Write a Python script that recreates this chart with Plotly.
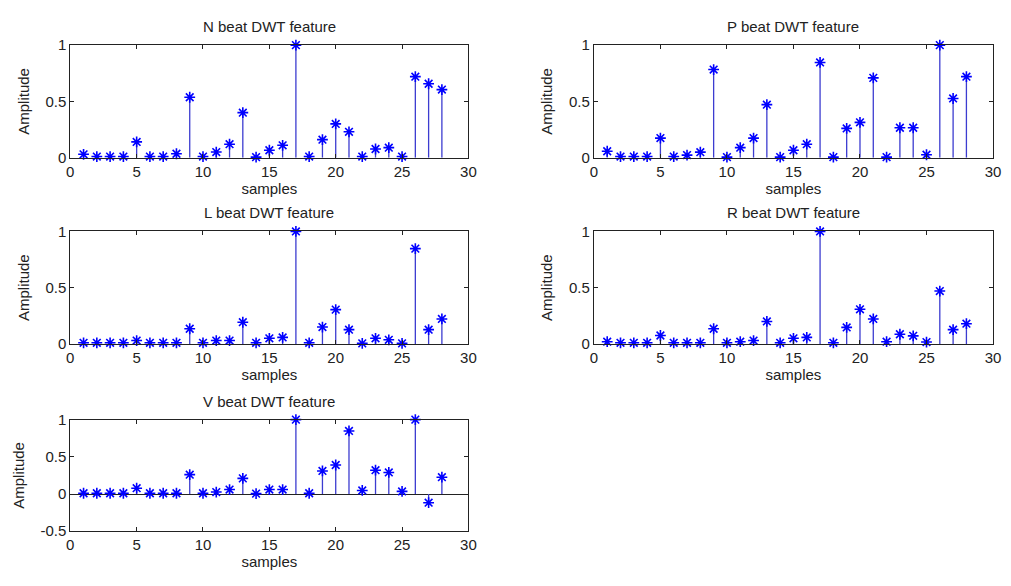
import plotly.graph_objects as go

samples = list(range(1, 29))

n_beat = [0.03, 0.01, 0.01, 0.01, 0.14, 0.01, 0.01, 0.035, 0.537, 0.01, 0.05, 0.12, 0.40, 0.005,
          0.066, 0.11, 1.0, 0.01, 0.16, 0.30, 0.23, 0.01, 0.077, 0.089, 0.01, 0.72, 0.657, 0.605]
p_beat = [0.057, 0.01, 0.01, 0.01, 0.174, 0.01, 0.023, 0.049, 0.783, 0.005, 0.089, 0.174, 0.471, 0.005,
          0.066, 0.12, 0.846, 0.005, 0.26, 0.314, 0.709, 0.005, 0.266, 0.266, 0.026, 1.0, 0.526, 0.72]
l_beat = [0.01, 0.01, 0.01, 0.01, 0.03, 0.01, 0.01, 0.01, 0.135, 0.01, 0.03, 0.03, 0.193, 0.01,
          0.05, 0.058, 1.0, 0.01, 0.15, 0.305, 0.127, 0.005, 0.05, 0.037, 0.005, 0.847, 0.127, 0.222]
r_beat = [0.02, 0.01, 0.01, 0.01, 0.075, 0.01, 0.01, 0.01, 0.135, 0.01, 0.02, 0.03, 0.20, 0.01,
          0.05, 0.058, 1.0, 0.01, 0.147, 0.308, 0.222, 0.02, 0.086, 0.072, 0.017, 0.47, 0.127, 0.18]
v_beat = [0.01, 0.01, 0.01, 0.01, 0.078, 0.01, 0.01, 0.01, 0.26, 0.01, 0.026, 0.06, 0.21, 0.005,
          0.06, 0.06, 1.0, 0.01, 0.31, 0.39, 0.848, 0.048, 0.32, 0.29, 0.035, 1.0, -0.117, 0.226]

titles = ["N beat DWT feature", "P beat DWT feature", "L beat DWT feature",
          "R beat DWT feature", "V beat DWT feature"]
series = [n_beat, p_beat, l_beat, r_beat, v_beat]

# the page has an 8px body margin, so the figure is 16px smaller than the window
OFF = 8
W, H = 1011 - 2 * OFF, 586 - 2 * OFF
col_x = [(67, 470), (597, 1001)]
row_y = [(37, 153), (229, 345), (423, 538)]
positions = [(0, 0), (0, 1), (1, 0), (1, 1), (2, 0)]

FONT = "Liberation Sans, Arial, sans-serif"
STEM = "#3c3cd0"
MARK = "#0000ff"
TXT = "#222222"
FS = 15

fig = go.Figure()
layout = dict(width=W, height=H, margin=dict(l=0, r=0, t=0, b=0),
              paper_bgcolor="white", plot_bgcolor="white", showlegend=False,
              font=dict(family=FONT, size=FS, color=TXT))
annotations = []

for i, (vals, title, (r, c)) in enumerate(zip(series, titles, positions)):
    k = "" if i == 0 else str(i + 1)
    xa, ya = "x" + k, "y" + k
    sx, sy = [], []
    for xv, yv in zip(samples, vals):
        sx += [xv, xv, None]
        sy += [0, yv, None]
    fig.add_trace(go.Scatter(x=sx, y=sy, mode="lines", xaxis=xa, yaxis=ya,
                             line=dict(color=STEM, width=1.3), hoverinfo="skip"))
    fig.add_trace(go.Scatter(x=samples, y=vals, mode="markers", xaxis=xa, yaxis=ya,
                             cliponaxis=False,
                             marker=dict(symbol="asterisk-open", size=9, color=MARK,
                                         line=dict(color=MARK, width=1.6))))
    x0, x1 = [v - OFF for v in col_x[c]]
    yt, yb = [v - OFF for v in row_y[r]]
    is_v = (i == 4)
    axis_common = dict(showline=True, linecolor=TXT, linewidth=1, mirror="ticks",
                       ticks="inside", ticklen=4, tickcolor=TXT, showgrid=False,
                       tickfont=dict(family=FONT, size=FS, color=TXT))
    layout["xaxis" + k] = dict(domain=[x0 / W, x1 / W], range=[0, 30], dtick=5, tick0=0,
                               anchor=ya, zeroline=False,
                               title=dict(text="samples", standoff=4,
                                          font=dict(family=FONT, size=FS, color=TXT)),
                               **axis_common)
    layout["yaxis" + k] = dict(domain=[1 - yb / H, 1 - yt / H],
                               range=[-0.5, 1] if is_v else [0, 1],
                               tickvals=[-0.5, 0, 0.5, 1] if is_v else [0, 0.5, 1],
                               ticktext=["-0.5", "0", "0.5", "1"] if is_v else ["0", "0.5", "1"],
                               anchor=xa, zeroline=is_v, zerolinecolor=TXT, zerolinewidth=1,
                               title=dict(text="Amplitude", standoff=12,
                                          font=dict(family=FONT, size=FS, color=TXT)),
                               **axis_common)
    annotations.append(dict(text=title, xref="paper", yref="paper",
                            x=(x0 + x1) / 2 / W, y=1 - yt / H, xanchor="center", yanchor="bottom",
                            yshift=8, showarrow=False,
                            font=dict(family=FONT, size=FS, color=TXT)))

layout["annotations"] = annotations
fig.update_layout(**layout)
fig.write_html("out.html", config={"displayModeBar": False})
